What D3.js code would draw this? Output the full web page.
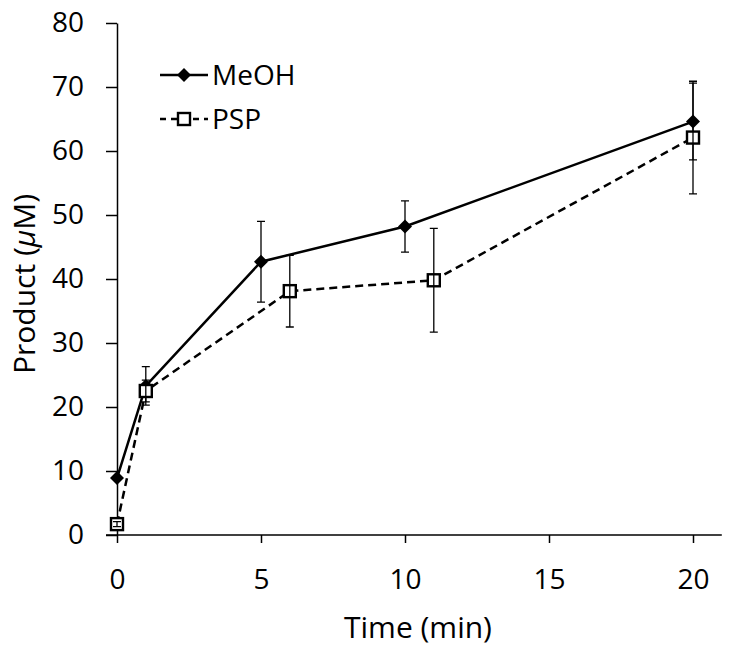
<!DOCTYPE html>
<html><head><meta charset="utf-8">
<script src="https://cdn.jsdelivr.net/npm/d3@7"></script>
<style>body{margin:0;background:#fff}svg{display:block}text{font-family:"Open Sans","Liberation Sans",sans-serif;fill:#000}</style>
</head><body><svg id="c" width="729" height="655"></svg>
<script>
const meohTime = [0, 1, 5, 10, 20];
const meohValue = [8.9, 23.3, 42.7, 48.2, 64.6];
const meohErr = [0, 3.0, 6.3, 4.0, 6.0];
const pspTime = [0, 1, 6, 11, 20];
const pspValue = [1.7, 22.5, 38.1, 39.8, 62.1];
const pspErr = [0.4, 1.7, 5.6, 8.1, 8.8];
const xTicks = [0, 5, 10, 15, 20];
const yTicks = [0, 10, 20, 30, 40, 50, 60, 70, 80];
const seriesNames = ["MeOH", "PSP"];

const svg = d3.select("#c");
const x = d3.scaleLinear().domain([0, 21]).range([117, 721.8]);
const y = d3.scaleLinear().domain([0, 80]).range([535, 23]);

const xAxis = svg.append("g").attr("transform", "translate(0,535)")
  .call(d3.axisBottom(x).tickValues(xTicks).tickSize(8).tickPadding(26).tickSizeOuter(0));
const yAxis = svg.append("g").attr("transform", "translate(117,0)")
  .call(d3.axisLeft(y).tickValues(yTicks).tickSize(11).tickPadding(22).tickSizeOuter(0));
[xAxis, yAxis].forEach(g => {
  g.select(".domain").attr("stroke", "#000").attr("stroke-width", 1.5);
  g.selectAll(".tick line").attr("stroke", "#000").attr("stroke-width", 1.5);
  g.selectAll(".tick text").style("font-size", "28px").attr("fill", "#000");
});
xAxis.select(".domain").attr("d", `M${x(0)-11},0H${x(21)}`);

svg.append("text").attr("x", 418).attr("y", 638).attr("text-anchor", "middle")
  .style("font-size", "30px").text("Time (min)");
const yl = svg.append("text").attr("transform", "translate(35,284) rotate(-90)")
  .attr("text-anchor", "middle").style("font-size", "30px");
yl.append("tspan").text("Product (");
yl.append("tspan").style("font-style", "italic").text("μ");
yl.append("tspan").text("M)");

const series = [
  {name: seriesNames[0], t: meohTime, v: meohValue, e: meohErr, dash: null, marker: "diamond"},
  {name: seriesNames[1], t: pspTime, v: pspValue, e: pspErr, dash: "8,5", marker: "square"}
];
const line = d3.line().x(d => x(d[0])).y(d => y(d[1]));

function drawMarker(g, type, cx, cy) {
  if (type === "diamond") {
    g.append("path").attr("d", `M${cx},${cy-7}L${cx+7},${cy}L${cx},${cy+7}L${cx-7},${cy}Z`).attr("fill", "#000");
  } else {
    g.append("rect").attr("x", cx-6).attr("y", cy-6).attr("width", 12).attr("height", 12)
      .attr("fill", "#fff").attr("stroke", "#000").attr("stroke-width", 2.4);
  }
}

series.slice().reverse().forEach(s => {
  const pts = s.t.map((t, i) => [t, s.v[i]]);
  svg.append("path").datum(pts).attr("d", line).attr("fill", "none")
    .attr("stroke", "#000").attr("stroke-width", 2.5).attr("stroke-dasharray", s.dash);
});
series.forEach(s => {
  const g = svg.append("g");
  s.t.forEach((t, i) => drawMarker(g, s.marker, x(t), y(s.v[i])));
  s.t.forEach((t, i) => {
    if (!s.e[i]) return;
    const cx = x(t), y1 = y(s.v[i] + s.e[i]), y2 = y(s.v[i] - s.e[i]);
    g.append("path").attr("d", `M${cx},${y1}V${y2}M${cx-4},${y1}H${cx+4}M${cx-4},${y2}H${cx+4}`)
      .attr("stroke", "#000").attr("stroke-width", 1.3).attr("fill", "none");
  });
});

const lg = svg.append("g");
series.forEach((s, i) => {
  const ly = 75 + i * 44;
  lg.append("line").attr("x1", 160).attr("x2", 208).attr("y1", ly).attr("y2", ly)
    .attr("stroke", "#000").attr("stroke-width", 2.5).attr("stroke-dasharray", s.dash ? "6,5" : null);
  drawMarker(lg, s.marker, 184, ly);
  lg.append("text").attr("x", 212).attr("y", ly + 10).style("font-size", "28px").text(s.name);
});
</script></body></html>
